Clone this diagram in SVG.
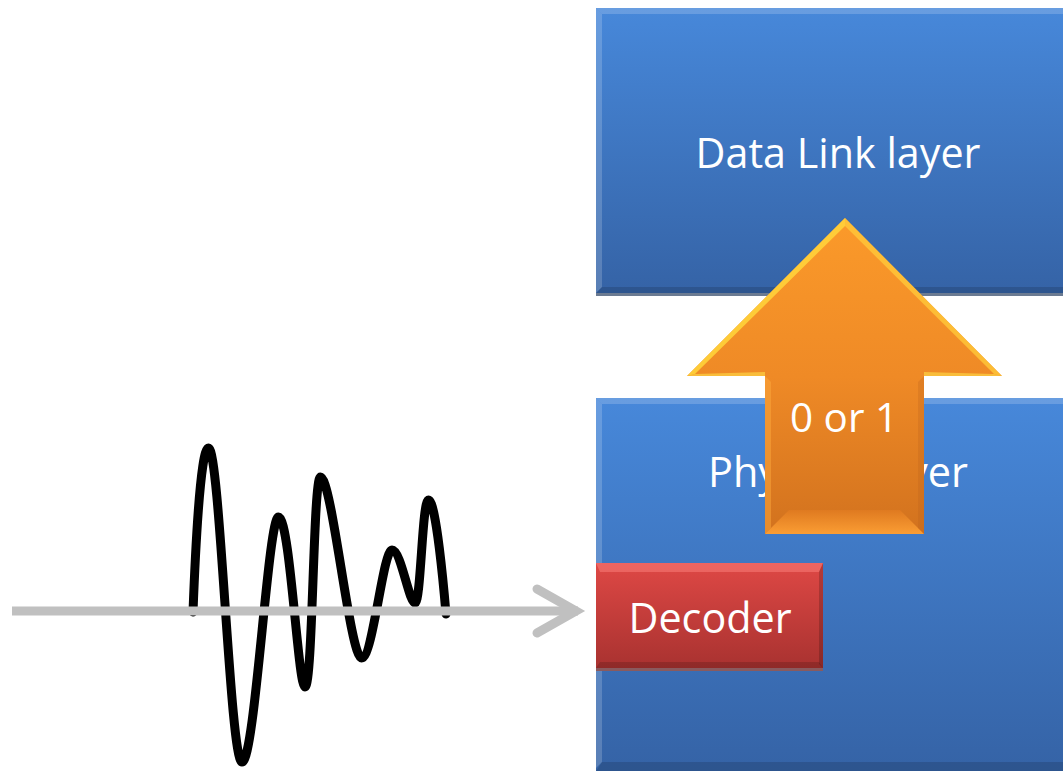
<svg xmlns="http://www.w3.org/2000/svg" width="1063" height="771" viewBox="0 0 1063 771">
  <defs>
    <linearGradient id="blueFill" x1="0" y1="0" x2="0" y2="1">
      <stop offset="0" stop-color="#4788da"/>
      <stop offset="1" stop-color="#3563a6"/>
    </linearGradient>
    <linearGradient id="redFill" x1="0" y1="0" x2="0" y2="1">
      <stop offset="0" stop-color="#de4845"/>
      <stop offset="1" stop-color="#a93230"/>
    </linearGradient>
    <linearGradient id="orangeFill" gradientUnits="userSpaceOnUse" x1="0" y1="218" x2="0" y2="534">
      <stop offset="0" stop-color="#fb9a2a"/>
      <stop offset="0.5" stop-color="#ef8a26"/>
      <stop offset="1" stop-color="#d2721e"/>
    </linearGradient>
    <linearGradient id="orangeBase" x1="0" y1="0" x2="0" y2="1">
      <stop offset="0" stop-color="#e07a20"/>
      <stop offset="1" stop-color="#ffa236"/>
    </linearGradient>
    <style>
      .label { font-family: "Open Sans", "Liberation Sans", sans-serif; fill: #ffffff; text-anchor: middle; }
      .wave { fill: none; stroke: #000000; stroke-width: 9; stroke-linecap: round; stroke-linejoin: round; }
      .axis { fill: none; stroke: #c0c0c0; stroke-width: 9; }
      .hilite { fill: #ffffff; opacity: 0.18; }
      .lowlite { fill: #000000; opacity: 0.14; }
    </style>
  </defs>

  <!-- upper layer box -->
  <g id="data-link-layer">
    <rect x="596" y="11" width="470" height="285" fill="#6b7b92"/>
    <rect x="596" y="8" width="470" height="285" fill="url(#blueFill)"/>
    <polygon class="hilite" points="596,8 1066,8 1066,14 602,14"/>
    <polygon class="hilite" points="596,8 602,14 602,287 596,293"/>
    <polygon class="lowlite" points="596,293 1066,293 1066,287 602,287"/>
    <text class="label" x="838" y="168" font-size="42" textLength="285" lengthAdjust="spacingAndGlyphs">Data Link layer</text>
  </g>

  <!-- lower layer box -->
  <g id="physical-layer">
    <rect x="596" y="398" width="470" height="373" fill="url(#blueFill)"/>
    <polygon class="hilite" points="596,398 1066,398 1066,404 602,404"/>
    <polygon class="hilite" points="596,398 602,404 602,762 596,768"/>
    <polygon class="lowlite" points="596,771 1066,771 1066,762 602,762"/>
    <text class="label" x="838" y="487" font-size="42" textLength="260" lengthAdjust="spacingAndGlyphs">Physical layer</text>
  </g>

  <!-- decoder block inside the physical layer -->
  <g id="decoder">
    <rect x="596" y="566" width="227" height="105" fill="#8a5a5e"/>
    <rect x="596" y="563" width="227" height="105" fill="url(#redFill)"/>
    <polygon points="596,563 823,563 819,572 600,572" fill="#ff8a86" opacity="0.45"/>
    <polygon points="823,563 823,668 819,664 819,572" fill="#000000" opacity="0.18"/>
    <polygon points="596,668 823,668 819,662 600,662" fill="#000000" opacity="0.15"/>
    <text class="label" x="710" y="633" font-size="42" textLength="163" lengthAdjust="spacingAndGlyphs">Decoder</text>
  </g>

  <!-- bit passed up between layers -->
  <g id="bit-arrow">
    <polygon points="845,218 1002,376 924,376 924,534 765,534 765,376 687,376" fill="url(#orangeFill)"/>
    <!-- bevel edges -->
    <polygon points="845,218 845,226 695,374 687,376" fill="#ffd23a" opacity="0.9"/>
    <polygon points="845,218 1002,376 994,374 845,226" fill="#ffc83a" opacity="0.8"/>
    <polygon points="687,376 765,376 765,372 695,374" fill="#ffe04a" opacity="0.6"/>
    <polygon points="924,376 1002,376 994,374 924,372" fill="#ffe04a" opacity="0.6"/>
    <polygon points="765,534 924,534 900,510 789,510" fill="url(#orangeBase)" opacity="0.9"/>
    <polygon points="765,376 771,382 771,528 765,534" fill="#ffae40" opacity="0.45"/>
    <polygon points="924,376 918,382 918,528 924,534" fill="#b8601a" opacity="0.25"/>
    <text class="label" x="844" y="432" font-size="40" textLength="108" lengthAdjust="spacingAndGlyphs">0 or 1</text>
  </g>

  <!-- incoming signal -->
  <g id="signal">
    <path class="wave" d="M193,612 C195,560 200,448 208.5,448 C220,448 230,762 242,762 C255,762 268,517 278.5,517 C290,517 298,687 305,687 C313,687 313,477 320.5,477 C332,477 350,658 361.5,658 C373,658 383,550 392,550 C401,550 409,603 415,603 C421,603 422,500 428.5,500 C436,500 444,590 446,614"/>
  </g>

  <g id="connectors">
    <line class="axis" x1="12" y1="611" x2="578" y2="611"/>
    <polyline class="axis" points="537,589 576,611 537,633" stroke-linecap="round" stroke-linejoin="miter"/>
  </g>
</svg>
